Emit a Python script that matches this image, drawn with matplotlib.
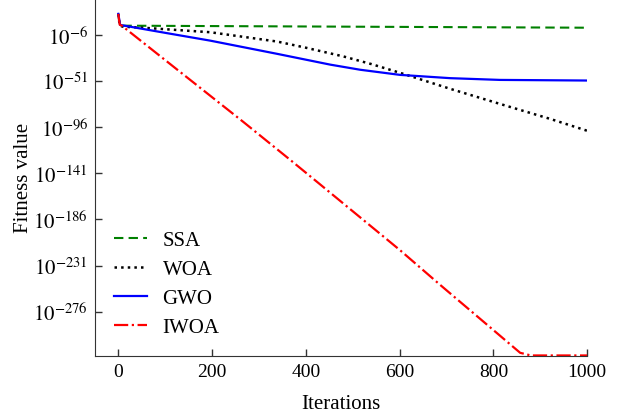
import numpy as np
from matplotlib import pyplot as plt
from matplotlib.ticker import FixedLocator, NullLocator

plt.rcParams['font.family'] = ['Liberation Serif', 'DejaVu Serif']
plt.rcParams['mathtext.fontset'] = 'stix'

# curves: iteration -> log10(fitness)
ssa_it = [0, 3, 250, 500, 750, 1000]
ssa_exp = [14.5, 3.0, 2.5, 2.0, 1.5, 1.0]

woa_it = [0, 3, 10, 53, 196, 339, 400, 480, 540, 601, 708, 814, 921, 1000]
woa_exp = [14.5, 3.0, 2.0, 1.0, -3.4, -12.5, -18.5, -27.0, -34.5, -43.0, -58.6, -73.3, -87.9, -99.5]

gwo_it = [0, 4, 100, 196, 339, 452, 516, 601, 708, 814, 1000]
gwo_exp = [14.5, 3.7, -4.0, -11.6, -24.5, -35.0, -40.0, -45.0, -48.2, -49.9, -50.5]

iwoa_it = [0, 3, 8, 126, 267, 367, 431, 601, 687, 857, 880, 1000]
iwoa_exp = [14.5, 4.0, 2.8, -40.0, -91.0, -128.0, -152.0, -216.0, -250.0, -316.0, -318.6, -318.6]

ytick_exp = [-6, -51, -96, -141, -186, -231, -276]
xticks = [0, 200, 400, 600, 800, 1000]

fig = plt.figure(figsize=(6.24, 4.14), dpi=100)
ax = fig.add_axes([0.152, 0.138, 0.789, 0.862])

ax.plot(ssa_it, 10.0 ** np.array(ssa_exp), '--', dashes=(4.5, 2.5), color='#008000', lw=1.5, label='SSA')
ax.plot(woa_it, 10.0 ** np.array(woa_exp), ':', color='black', lw=1.8, label='WOA')
ax.plot(gwo_it, 10.0 ** np.array(gwo_exp), '-', color='blue', lw=1.6, label='GWO')
ax.plot(iwoa_it, 10.0 ** np.array(iwoa_exp), '-.', color='red', lw=1.6, label='IWOA')

ax.set_yscale('log')
ax.set_xlim(-50, 1000)
ax.set_ylim(10.0 ** -319, 10.0 ** 29)
ax.yaxis.set_major_locator(FixedLocator([10.0 ** e for e in ytick_exp]))
ax.yaxis.set_minor_locator(NullLocator())
ax.set_yticklabels([r'$10^{%d}$' % e for e in ytick_exp])
ax.set_xticks(xticks)

for s in ['top', 'right']:
    ax.spines[s].set_visible(False)
for s in ['left', 'bottom']:
    ax.spines[s].set_color('#333333')
ax.tick_params(direction='in', length=5, width=1, color='#333333')
ax.tick_params(axis='x', labelsize=14, pad=5)
ax.tick_params(axis='y', labelsize=15, pad=5)

ax.set_xlabel('Iterations', fontsize=15, labelpad=10)
ax.set_ylabel('Fitness value', fontsize=15)
ax.yaxis.set_label_coords(-0.125, 0.5)

ax.legend(loc='lower left', frameon=False, fontsize=15, handlelength=1.6,
          handletextpad=0.75, labelspacing=0.45)

fig.savefig('out.png', dpi=100)
